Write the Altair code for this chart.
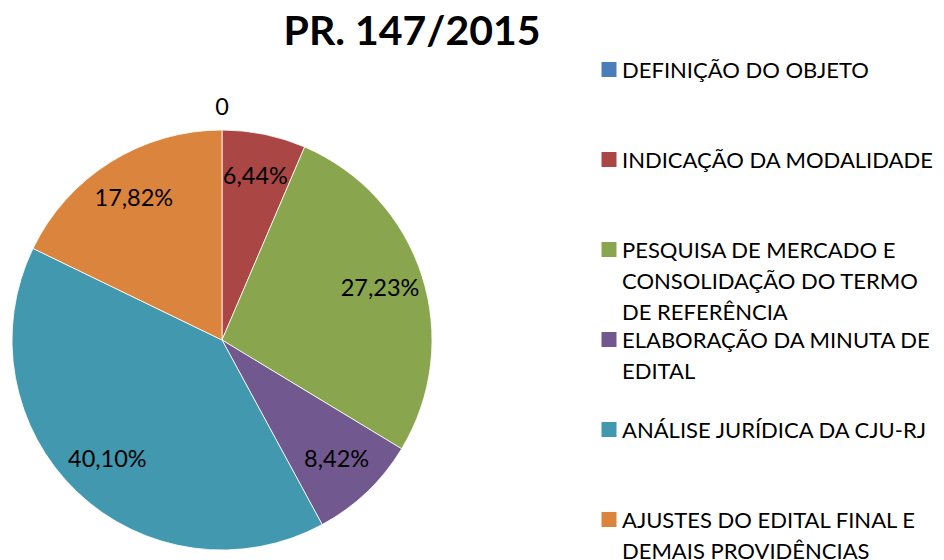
import altair as alt
import pandas as pd

categories = [
    "DEFINIÇÃO DO OBJETO",
    "INDICAÇÃO DA MODALIDADE",
    "PESQUISA DE MERCADO E CONSOLIDAÇÃO DO TERMO DE REFERÊNCIA",
    "ELABORAÇÃO DA MINUTA DE EDITAL",
    "ANÁLISE JURÍDICA DA CJU-RJ",
    "AJUSTES DO EDITAL FINAL E DEMAIS PROVIDÊNCIAS",
]
legend_labels = [
    "DEFINIÇÃO DO OBJETO",
    "INDICAÇÃO DA MODALIDADE",
    "PESQUISA DE MERCADO E\nCONSOLIDAÇÃO DO TERMO\nDE REFERÊNCIA",
    "ELABORAÇÃO DA MINUTA DE\nEDITAL",
    "ANÁLISE JURÍDICA DA CJU-RJ",
    "AJUSTES DO EDITAL FINAL E\nDEMAIS PROVIDÊNCIAS",
]
values = [0, 6.44, 27.23, 8.42, 40.10, 17.82]
colors = ["#4A7EBB", "#AA4643", "#89A54E", "#71588F", "#4198AF", "#DB843D"]

df = pd.DataFrame({
    "idx": list(range(len(categories))),
    "category": categories,
    "legend": legend_labels,
    "value": values,
})

FONT = "Lato"
CX, CY, R = 214, 272, 210

color = alt.Color("category:N", scale=alt.Scale(domain=categories, range=colors), legend=None)

base = alt.Chart(df).transform_calculate(
    label="datum.value == 0 ? '0' : replace(format(datum.value, '.2f'), '.', ',') + '%'"
)

theta = alt.Theta("value:Q", stack=True)
order = alt.Order("idx:Q")

arcs = base.mark_arc(radius=R, stroke="white", strokeWidth=0.8).encode(
    theta=theta, order=order, color=color,
    x=alt.value(CX), y=alt.value(CY),
)

labels = base.mark_text(radius=166, font=FONT, fontSize=23.5, color="black",
                        baseline="middle", align="center").encode(
    theta=theta, order=order, text="label:N",
    x=alt.value(CX), y=alt.value(CY),
    opacity=alt.condition("datum.value > 0", alt.value(1), alt.value(0)),
)

zero_label = base.mark_text(radius=232, font=FONT, fontSize=23.5, color="black",
                            baseline="middle", align="center").encode(
    theta=theta, order=order, text="label:N",
    x=alt.value(CX), y=alt.value(CY),
    opacity=alt.condition("datum.value == 0", alt.value(1), alt.value(0)),
)

ly = alt.Y("idx:Q", scale=alt.Scale(domain=[0, 5], range=[1.5, 451.5]), axis=None)

leg_sq = base.mark_square(size=225, opacity=1).encode(
    x=alt.value(601), y=ly, color=color,
)
leg_txt = base.mark_text(font=FONT, fontSize=22, align="left", baseline="top",
                         lineBreak="\n", lineHeight=31, dy=-9, color="black").encode(
    x=alt.value(614), y=ly, text="legend:N",
)

chart = alt.layer(arcs, labels, zero_label, leg_sq, leg_txt).properties(
    width=920, height=484,
    padding={"top": 60, "left": 0, "right": 8, "bottom": 8},
    autosize=alt.AutoSizeParams(type="none"),
    title=alt.TitleParams("PR. 147/2015", font=FONT, fontSize=41, fontWeight="bold",
                          color="black", anchor="middle", dx=-56, offset=6),
).configure_view(stroke=None)

chart.save("out.html", embed_options={"renderer": "svg", "actions": False})
